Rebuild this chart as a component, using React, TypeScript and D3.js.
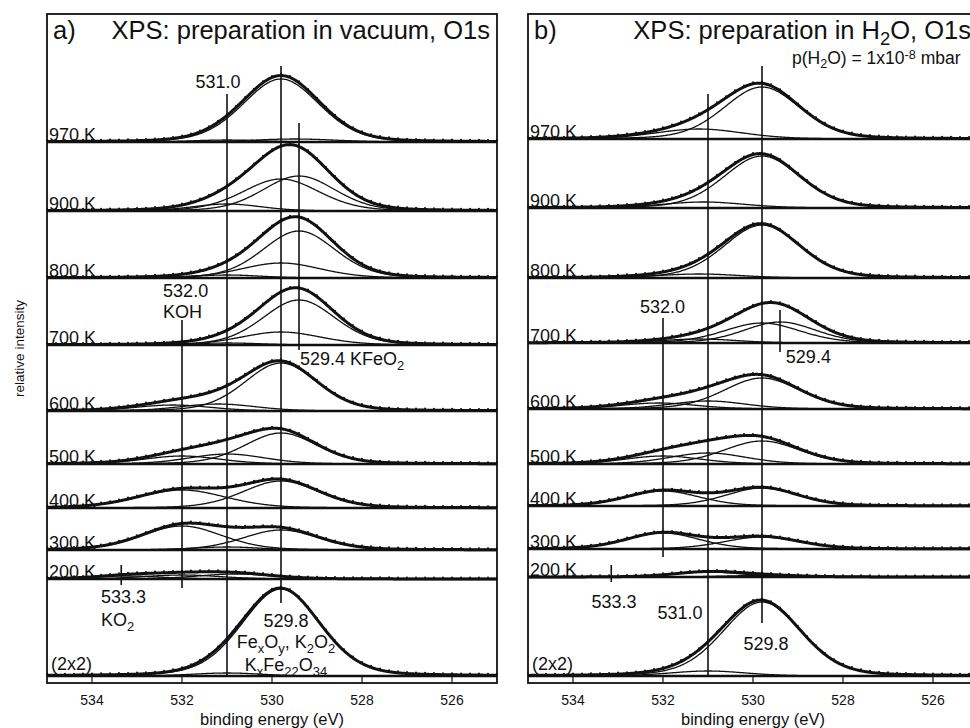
import React from "react";
import * as d3 from "d3";

// ---------------- data ----------------
const ENERGY_TICKS = [534, 532, 530, 528, 526];
const TEMP_LABELS = ["970 K", "900 K", "800 K", "700 K", "600 K", "500 K", "400 K", "300 K", "200 K", "(2x2)"];

// vertical offset (baseline) of each spectrum, relative intensity units
const OFFSETS_A = [541, 472, 405, 338, 272, 219, 175, 133, 104, 7];
const OFFSETS_B = [544, 475, 405, 340, 274, 219, 177, 134, 106, 7];

// fitted components: [binding energy (eV), height, FWHM (eV)]
const PEAKS_A: number[][][] = [
  [[529.8, 63, 2.0], [529.5, 3, 2.2], [531.0, 2, 1.8]],
  [[529.4, 35, 1.9], [529.8, 32, 2.0], [531.0, 7, 1.8]],
  [[529.4, 47, 1.9], [529.8, 15, 2.1], [531.0, 3, 1.8]],
  [[529.4, 45, 1.9], [529.8, 13, 2.1], [531.0, 2, 1.8]],
  [[529.8, 48, 1.9], [531.2, 7, 2.0], [532.2, 6, 2.0]],
  [[529.8, 31, 1.9], [531.0, 10, 2.0], [532.0, 8, 2.0]],
  [[532.0, 18, 2.3], [529.8, 27, 2.0]],
  [[532.0, 24, 2.1], [529.8, 20, 2.0], [531.0, 3, 1.8]],
  [[533.2, 3, 1.8], [532.0, 4, 2.0], [530.8, 5, 2.0]],
  [[529.8, 87, 2.05], [531.0, 3, 1.8]],
];
const PEAKS_B: number[][][] = [
  [[529.8, 52, 2.0], [531.2, 10, 2.3]],
  [[529.8, 52, 2.0], [531.1, 6, 2.2]],
  [[529.8, 53, 2.0], [531.2, 4, 2.2]],
  [[529.8, 20, 2.0], [529.4, 21, 1.9], [531.2, 4, 2.0]],
  [[529.8, 31, 2.0], [531.0, 8, 2.0], [532.1, 6, 2.0]],
  [[529.8, 23, 2.0], [531.0, 11, 2.0], [532.0, 8, 2.0]],
  [[532.0, 15, 1.9], [529.8, 18, 1.9]],
  [[532.0, 16, 1.9], [529.8, 12, 2.0]],
  [[531.0, 5, 1.8], [529.8, 1.5, 2.0]],
  [[529.8, 74, 2.05], [531.0, 5, 2.0]],
];

// reference lines: [energy, from intensity, to intensity]
const REF_LINES_A = [[529.8, 80, 617], [531.0, 7, 589], [529.4, 333, 560], [532.0, 95, 363], [533.35, 98, 118]];
const REF_LINES_B = [[529.8, 60, 617], [531.0, 7, 589], [532.0, 126, 365], [529.4, 331, 373], [533.15, 101, 118]];

// annotations: [text, energy, intensity, anchor]
const NOTES_A: [string, number, number, string][] = [
  ["531.0", 531.2, 595, "middle"],
  ["532.0", 532.42, 386, "start"],
  ["KOH", 532.42, 365, "start"],
  ["529.4 KFeO_{2}", 529.38, 318, "start"],
  ["533.3", 533.8, 80, "start"],
  ["KO_{2}", 533.8, 57, "start"],
  ["529.8", 529.69, 56, "middle"],
  ["Fe_{x}O_{y}, K_{2}O_{2}", 529.69, 35, "middle"],
  ["K_{x}Fe_{22}O_{34}", 529.69, 12, "middle"],
];
const NOTES_B: [string, number, number, string][] = [
  ["532.0", 532.01, 370, "middle"],
  ["529.4", 529.27, 320, "start"],
  ["533.3", 533.09, 75, "middle"],
  ["531.0", 531.62, 64, "middle"],
  ["529.8", 529.71, 33, "middle"],
];

// ---------------- layout ----------------
const W = 970;
const H = 728;
const TOP = 14;
const BOTTOM = 683;
const FONT = "'Liberation Sans', Arial, Helvetica, sans-serif";
const INK = "#111";
const ETA = 0.2; // Lorentzian fraction of pseudo-Voigt

const y = d3.scaleLinear().domain([0, 669]).range([BOTTOM, TOP]);

function pv(e: number, c: number, h: number, w: number) {
  const d = (e - c) / w;
  const g = Math.exp(-4 * Math.LN2 * d * d);
  const l = 1 / (1 + 4 * d * d);
  return h * ((1 - ETA) * g + ETA * l);
}

function Rich({ text, x, yy, size, anchor, sup = 0.38 }: any) {
  const tokens = text.split(/(_\{[^}]*\}|\^\{[^}]*\})/).filter((t: string) => t.length);
  let shift = 0;
  const spans = tokens.map((t: string, i: number) => {
    let target = 0;
    let content = t;
    let fs = size;
    if (t.startsWith("_{")) {
      target = 0.25 * size;
      content = t.slice(2, -1);
      fs = size * 0.72;
    } else if (t.startsWith("^{")) {
      target = -sup * size;
      content = t.slice(2, -1);
      fs = size * 0.72;
    }
    const dy = target - shift;
    shift = target;
    return (
      <tspan key={i} dy={dy} fontSize={fs}>
        {content}
      </tspan>
    );
  });
  return (
    <text x={x} y={yy} fontSize={size} fontFamily={FONT} fill={INK} textAnchor={anchor}>
      {spans}
    </text>
  );
}

function Panel({ x0, offsets, peaks, refLines, notes, letter, title, extra }: any) {
  const x = d3.scaleLinear().domain([535, 525]).range([x0, x0 + 450]);
  const grid = d3.range(0, 501).map((i) => 535 - i * 0.02);
  const dotsE = d3.range(0, 51).map((i) => 535 - i * 0.2);
  const line = d3
    .line<[number, number]>()
    .x((d) => x(d[0]))
    .y((d) => y(d[1]));

  return (
    <g>
      {offsets.map((off: number, si: number) => {
        const comps: number[][] = peaks[si];
        const env = (e: number) => off + d3.sum(comps, (p) => pv(e, p[0], p[1], p[2]));
        return (
          <g key={si}>
            <line x1={x(535)} x2={x(525)} y1={y(off)} y2={y(off)} stroke={INK} strokeWidth={2.6} />
            {comps.map((p, ci) => (
              <path
                key={ci}
                d={line(grid.map((e) => [e, off + pv(e, p[0], p[1], p[2])]))!}
                fill="none"
                stroke={INK}
                strokeWidth={1.3}
              />
            ))}
            <path d={line(grid.map((e) => [e, env(e)]))!} fill="none" stroke={INK} strokeWidth={3} />
            {dotsE.map((e, di) => (
              <circle key={di} cx={x(e)} cy={y(env(e)) - 1.5} r={1} fill={INK} />
            ))}
            {si < 9 ? (
              <text x={x0 + 2} y={y(off) - 1} fontSize={18} fontFamily={FONT} fill={INK}>
                {TEMP_LABELS[si]}
              </text>
            ) : (
              <text x={x0 + 4} y={y(13)} fontSize={18} fontFamily={FONT} fill={INK}>
                {TEMP_LABELS[si]}
              </text>
            )}
          </g>
        );
      })}
      {refLines.map((r: number[], i: number) => (
        <line key={i} x1={x(r[0])} x2={x(r[0])} y1={y(r[1])} y2={y(r[2])} stroke={INK} strokeWidth={1.6} />
      ))}
      {notes.map((n: any, i: number) => (
        <Rich key={i} text={n[0]} x={x(n[1])} yy={y(n[2])} size={18} anchor={n[3]} />
      ))}
      {/* frame */}
      <rect x={x(535)} y={TOP} width={x(525) - x(535)} height={BOTTOM - TOP} fill="none" stroke={INK} strokeWidth={1.8} />
      {ENERGY_TICKS.map((t) => (
        <g key={t}>
          <line x1={x(t)} x2={x(t)} y1={BOTTOM} y2={BOTTOM - 6} stroke={INK} strokeWidth={1.2} />
          <text x={x(t)} y={705} fontSize={14} fontFamily={FONT} fill={INK} textAnchor="middle">
            {t}
          </text>
        </g>
      ))}
      <text x={x(530)} y={725} fontSize={16.5} fontFamily={FONT} fill={INK} textAnchor="middle">
        binding energy (eV)
      </text>
      <text x={x0 + 6} y={39} fontSize={25.5} fontFamily={FONT} fill={INK}>
        {letter}
      </text>
      <Rich text={title} x={x0 + 443} yy={39} size={25.5} anchor="end" />
      {extra}
    </g>
  );
}

export default function App() {
  return (
    <svg
      width={W}
      height={H}
      viewBox={`0 0 ${W} ${H}`}
      style={{ position: "absolute", left: 0, top: 0, background: "#fff" }}
    >
      <rect x={0} y={0} width={W} height={H} fill="#fff" />
      <text
        transform={`translate(24, ${(TOP + BOTTOM) / 2}) rotate(-90)`}
        fontSize={13.5}
        fontFamily={FONT}
        fill={INK}
        textAnchor="middle"
      >
        relative intensity
      </text>
      <Panel
        x0={47}
        offsets={OFFSETS_A}
        peaks={PEAKS_A}
        refLines={REF_LINES_A}
        notes={NOTES_A}
        letter="a)"
        title="XPS: preparation in vacuum, O1s"
      />
      <Panel
        x0={528}
        offsets={OFFSETS_B}
        peaks={PEAKS_B}
        refLines={REF_LINES_B}
        notes={NOTES_B}
        letter="b)"
        title="XPS: preparation in H_{2}O, O1s"
        extra={<Rich text="p(H_{2}O) = 1x10^{-8} mbar" x={792} yy={64} size={17.5} anchor="start" sup={0.3} />}
      />
    </svg>
  );
}
